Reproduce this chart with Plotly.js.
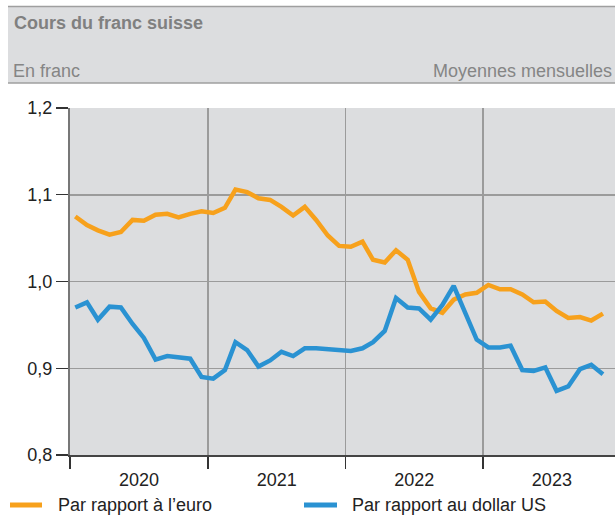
<!DOCTYPE html>
<html>
<head>
<meta charset="utf-8">
<script src="https://cdn.plot.ly/plotly-3.0.1.min.js"></script>
<style>
  html, body { margin: 0; padding: 0; background: #ffffff; }
  #chart { width: 615px; height: 518px; }
</style>
</head>
<body>
<div id="chart"></div>
<script>
// Monthly averages, January 2020 to November 2023
const months = [
  "2020-01-15","2020-02-15","2020-03-15","2020-04-15","2020-05-15","2020-06-15","2020-07-15","2020-08-15","2020-09-15","2020-10-15","2020-11-15","2020-12-15",
  "2021-01-15","2021-02-15","2021-03-15","2021-04-15","2021-05-15","2021-06-15","2021-07-15","2021-08-15","2021-09-15","2021-10-15","2021-11-15","2021-12-15",
  "2022-01-15","2022-02-15","2022-03-15","2022-04-15","2022-05-15","2022-06-15","2022-07-15","2022-08-15","2022-09-15","2022-10-15","2022-11-15","2022-12-15",
  "2023-01-15","2023-02-15","2023-03-15","2023-04-15","2023-05-15","2023-06-15","2023-07-15","2023-08-15","2023-09-15","2023-10-15","2023-11-15"
];
const euro = [
  1.075, 1.065, 1.059, 1.054, 1.057, 1.071, 1.070, 1.077, 1.078, 1.074, 1.078, 1.081,
  1.079, 1.085, 1.106, 1.103, 1.096, 1.094, 1.086, 1.076, 1.086, 1.071, 1.053, 1.041,
  1.040, 1.046, 1.025, 1.022, 1.036, 1.025, 0.988, 0.969, 0.964, 0.979, 0.985, 0.987,
  0.996, 0.991, 0.991, 0.985, 0.976, 0.977, 0.966, 0.958, 0.959, 0.955, 0.963
];
const dollar = [
  0.970, 0.976, 0.956, 0.971, 0.970, 0.951, 0.935, 0.910, 0.914, 0.913, 0.911, 0.890,
  0.888, 0.898, 0.930, 0.921, 0.902, 0.909, 0.919, 0.914, 0.923, 0.923, 0.922, 0.921,
  0.920, 0.923, 0.930, 0.943, 0.981, 0.970, 0.969, 0.956, 0.973, 0.995, 0.963, 0.933,
  0.924, 0.924, 0.926, 0.898, 0.897, 0.901, 0.874, 0.879, 0.899, 0.904, 0.893
];
const seriesNames = ["Par rapport à l\u2019euro", "Par rapport au dollar US"];
const yTicks = [0.8, 0.9, 1.0, 1.1, 1.2];
const titleText = "Cours du franc suisse";
const unitText = "En franc";
const noteText = "Moyennes mensuelles";

const ORANGE = "#f7a11c";
const BLUE = "#2a92d2";
const FONT = "Liberation Sans, Arial, sans-serif";

// pixel helpers for paper coords (plot area: x 70..615, y 108..455)
const L = 70, R = 0, T = 108, B = 63, W = 615, H = 518;
const pw = W - L - R, ph = H - T - B;
const px = v => (v - L) / pw;
const py = v => (H - B - v) / ph;

const traces = [
  { x: months, y: euro, type: "scatter", mode: "lines", name: seriesNames[0],
    line: { color: ORANGE, width: 4.5, shape: "linear" }, showlegend: false },
  { x: months, y: dollar, type: "scatter", mode: "lines", name: seriesNames[1],
    line: { color: BLUE, width: 4.5, shape: "linear" }, showlegend: false }
];

// legend keys (drawn as a key strip below the axis)
const legendKeys = [
  { color: ORANGE, x0: 10, x1: 42, tx: 58, label: seriesNames[0] },
  { color: BLUE, x0: 304, x1: 337, tx: 352, label: seriesNames[1] }
];
const legendY = 505;

const shapes = [
  { type: "rect", xref: "paper", yref: "paper", x0: px(8), x1: px(615), y0: py(83), y1: py(6),
    fillcolor: "#dcdddf", line: { width: 0 }, layer: "below" },
  { type: "line", xref: "paper", yref: "paper", x0: px(8), x1: px(615), y0: py(6.5), y1: py(6.5),
    line: { color: "#9f9f9f", width: 1.5 } },
  { type: "line", xref: "paper", yref: "paper", x0: px(8), x1: px(615), y0: py(83), y1: py(83),
    line: { color: "#9f9f9f", width: 1.5 } }
];
const annotations = [
  { text: "<b>" + titleText + "</b>", xref: "paper", yref: "paper", x: px(12), y: py(23),
    xanchor: "left", yanchor: "middle", showarrow: false,
    font: { family: FONT, size: 18, color: "#808080" } },
  { text: unitText, xref: "paper", yref: "paper", x: px(11), y: py(71),
    xanchor: "left", yanchor: "middle", showarrow: false,
    font: { family: FONT, size: 18, color: "#858585" } },
  { text: noteText, xref: "paper", yref: "paper", x: px(614), y: py(71),
    xanchor: "right", yanchor: "middle", showarrow: false,
    font: { family: FONT, size: 18, color: "#858585" } }
];
legendKeys.forEach(k => {
  shapes.push({ type: "line", xref: "paper", yref: "paper", x0: px(k.x0), x1: px(k.x1),
    y0: py(legendY), y1: py(legendY), line: { color: k.color, width: 5 } });
  annotations.push({ text: k.label, xref: "paper", yref: "paper", x: px(k.tx - 2), y: py(legendY),
    xanchor: "left", yanchor: "middle", showarrow: false,
    font: { family: FONT, size: 18, color: "#222222" } });
});

const layout = {
  width: W, height: H,
  margin: { l: L, r: R, t: T, b: B, pad: 0 },
  paper_bgcolor: "#ffffff",
  plot_bgcolor: "#dcdddf",
  separators: ", ",
  font: { family: FONT, size: 18, color: "#222222" },
  showlegend: false,
  xaxis: {
    type: "date",
    range: ["2020-01-01", "2023-12-17"],
    dtick: "M12", tick0: "2020-01-01",
    ticklabelmode: "period",
    tickformat: "%Y",
    ticks: "outside", ticklen: 12, tickwidth: 1.2, tickcolor: "#333333",
    ticklabelstandoff: -4,
    showgrid: true, gridcolor: "#9b9b9b", gridwidth: 1.5,
    showline: true, linecolor: "#444444", linewidth: 1.5,
    zeroline: false, fixedrange: true, automargin: false,
    tickfont: { family: FONT, size: 18, color: "#222222" }
  },
  yaxis: {
    range: [0.8, 1.2],
    tickvals: yTicks, tickformat: ".1f",
    ticks: "outside", ticklen: 12, tickwidth: 1.2, tickcolor: "#333333",
    showgrid: true, gridcolor: "#9b9b9b", gridwidth: 1.5,
    showline: true, linecolor: "#777777", linewidth: 2,
    zeroline: false, fixedrange: true, automargin: false,
    tickfont: { family: FONT, size: 18, color: "#222222" }
  },
  shapes: shapes,
  annotations: annotations
};

Plotly.newPlot("chart", traces, layout, { staticPlot: true, displayModeBar: false });
</script>
</body>
</html>
